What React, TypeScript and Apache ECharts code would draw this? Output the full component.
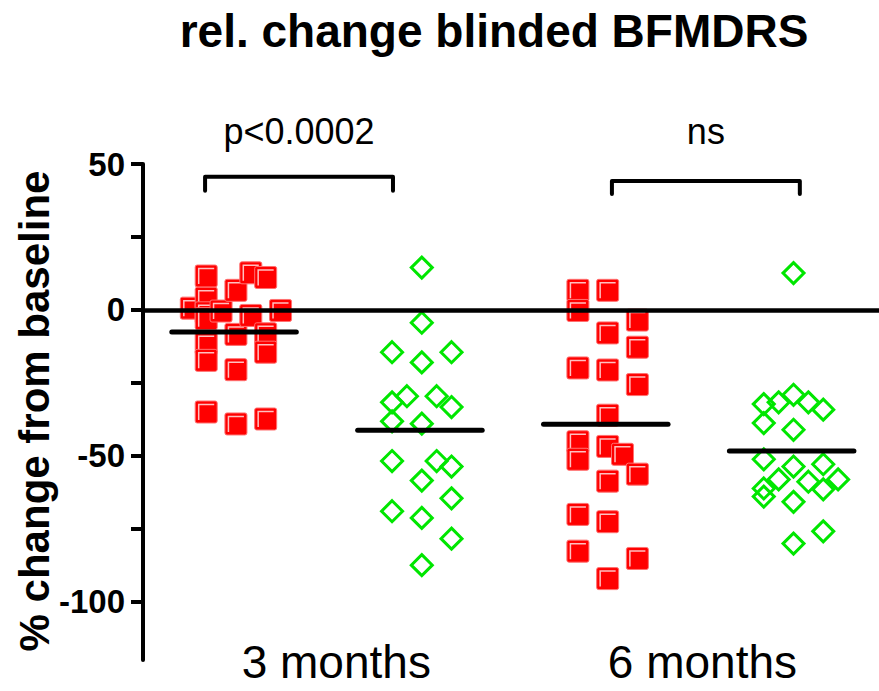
import React, { useEffect, useRef } from 'react';
import * as echarts from 'echarts';

// ---- data ----
const groupCenters = [1, 2, 3, 4];
const groupNames = ['3 months (red)', '3 months (green)', '6 months (red)', '6 months (green)'];
const slotStep = 0.08; // horizontal jitter step, in x-axis units

const red3mValues = [0.6, 11.6, 4, -1, -3, -11.6, -17.3, -35, -0.4, 6.7, -8.4, -20.5, -39.1, 12.7, -1.9, 11.1, -8.2, -14.5, -37.4, -0.2];
const red3mSlots = [-3, -2, -2, -2, -2, -2, -2, -2, -1, 0, 0, 0, 0, 1, 1, 2, 2, 2, 2, 3];

const green3mValues = [14.5, -4.4, -18, -39, -58.5, -71.3, -87.5, -14.5, -31.7, -38.2, -51.8, -69, -14.5, -33.3, -53.7, -64.6, -78.4, -29.6, -29.6, -51.8];
const green3mSlots = [0, 0, 0, 0, 0, 0, 0, -2, -2, -2, -2, -2, 2, 2, 2, 2, 2, -1, 1, 1];

const red6mValues = [6.7, -0.2, -19.9, -45.2, -51.2, -70.1, -82.7, 6.7, -7.9, -20.6, -36.1, -46.8, -58.7, -72.6, -92.1, -49.5, -3.5, -12.8, -25.6, -56.3, -85.2];
const red6mSlots = [-2, -2, -2, -2, -2, -2, -2, 0, 0, 0, 0, 0, 0, 0, 0, 1, 2, 2, 2, 2, 2];

const green6mValues = [-32.3, -38.8, -51.2, -61.2, -64, -31.7, -58.1, 12.6, -29.1, -41.1, -53.7, -65.8, -80.1, -31.7, -58.9, -34.2, -52.9, -61.5, -75.9, -58.1];
const green6mSlots = [-2, -2, -2, -2, -2, -1, -1, 0, 0, 0, 0, 0, 0, 1, 1, 2, 2, 2, 2, 3];

const yTickValues = [50, 25, 0, -25, -50, -75, -100];
const yLabelValues = [50, 0, -50, -100];
const xLabelPositions = [1.54, 3.51];
const xLabels = ['3 months', '6 months'];

const bracketX1 = [0.834, 3.023];
const bracketX2 = [1.845, 4.034];
const bracketTopY = [45.6, 44.2];
const bracketLegY = [40.8, 39.7];
const bracketTextY = [61, 61];
const bracketLabels = ['p<0.0002', 'ns'];

const FONT = "'Liberation Sans', Arial, Helvetica, sans-serif";
const RED = '#ff0000';
const GREEN = '#00e600';

const mean = (a: number[]) => a.reduce((s, v) => s + v, 0) / a.length;
const toPoints = (center: number, vals: number[], slots: number[]) =>
  vals.map((v, i) => [center + slots[i] * slotStep, v]);

const squareRender = (params: any, api: any) => {
  const p = api.coord([api.value(0), api.value(1)]);
  const s = 22;
  return {
    type: 'group',
    children: [
      {
        type: 'rect',
        shape: { x: p[0] - s / 2, y: p[1] - s / 2, width: s, height: s, r: 2 },
        style: { fill: RED, stroke: '#ff7070', lineWidth: 1 },
      },
      {
        type: 'polyline',
        shape: { points: [[p[0] - 7.5, p[1] + 8], [p[0] - 7.5, p[1] - 7.5], [p[0] + 8, p[1] - 7.5]] },
        style: { stroke: '#ffc0c0', lineWidth: 1.5, fill: null },
      },
    ],
  };
};

const bracketRender = (params: any, api: any) => {
  const x1 = api.value(0), x2 = api.value(1), yt = api.value(2), yl = api.value(3), ytx = api.value(4);
  const a = api.coord([x1, yt]);
  const b = api.coord([x2, yt]);
  const al = api.coord([x1, yl]);
  const bl = api.coord([x2, yl]);
  const t = api.coord([(x1 + x2) / 2, ytx]);
  return {
    type: 'group',
    children: [
      {
        type: 'polyline',
        shape: { points: [al, a, b, bl] },
        style: { stroke: '#000', lineWidth: 4, fill: null, lineJoin: 'round', lineCap: 'round' },
      },
      {
        type: 'text',
        x: t[0],
        y: t[1],
        style: {
          text: bracketLabels[params.dataIndex],
          font: `36px ${FONT}`,
          fill: '#000',
          align: 'center',
          verticalAlign: 'middle',
          textAlign: 'center',
          textVerticalAlign: 'middle',
        },
      },
    ],
  };
};

const meanLineSeries = (center: number, vals: number[]) => ({
  type: 'line',
  data: [[center - 0.345, mean(vals)], [center + 0.325, mean(vals)]],
  symbol: 'none',
  lineStyle: { color: '#000', width: 5, cap: 'round' },
  z: 6,
  silent: true,
  animation: false,
});

export default function App() {
  const ref = useRef<HTMLDivElement>(null);
  useEffect(() => {
    if (!ref.current) return;
    const chart = echarts.init(ref.current, null, { renderer: 'svg' });
    const option: any = {
      animation: false,
      backgroundColor: '#fff',
      grid: { left: 143, right: 0, top: 164, bottom: 31 },
      xAxis: {
        type: 'value',
        min: 0.5,
        max: 4.46,
        axisLine: { show: false },
        axisTick: { show: false },
        splitLine: { show: false },
        axisLabel: {
          customValues: xLabelPositions,
          formatter: (v: number) => (v < 2.5 ? xLabels[0] : xLabels[1]),
          fontSize: 46,
          fontFamily: FONT,
          color: '#000',
          margin: -21,
        },
      },
      yAxis: {
        type: 'value',
        min: -120,
        max: 50,
        axisLine: { show: true, lineStyle: { color: '#000', width: 4 } },
        axisTick: { show: true, customValues: yTickValues, length: 12, lineStyle: { color: '#000', width: 4 } },
        axisLabel: {
          customValues: yLabelValues,
          fontSize: 33,
          fontWeight: 'bold',
          fontFamily: FONT,
          color: '#000',
          margin: 18,
        },
        splitLine: { show: false },
      },
      graphic: [
        {
          type: 'text',
          x: 494,
          y: 31,
          style: {
            text: 'rel. change blinded BFMDRS',
            font: `bold 46px ${FONT}`,
            fill: '#000',
            textAlign: 'center',
            textVerticalAlign: 'middle',
          },
        },
        {
          type: 'text',
          x: 34,
          y: 411,
          rotation: Math.PI / 2,
          style: {
            text: '% change from baseline',
            font: `bold 42px ${FONT}`,
            fill: '#000',
            textAlign: 'center',
            textVerticalAlign: 'middle',
          },
        },
      ],
      series: [
        {
          type: 'custom',
          name: groupNames[0],
          data: toPoints(groupCenters[0], red3mValues, red3mSlots),
          renderItem: squareRender,
          z: 2,
        },
        {
          type: 'scatter',
          name: groupNames[1],
          data: toPoints(groupCenters[1], green3mValues, green3mSlots),
          symbol: 'diamond',
          symbolSize: 21,
          itemStyle: { color: 'rgba(0,0,0,0)', borderColor: GREEN, borderWidth: 3, opacity: 1 },
          z: 2,
        },
        {
          type: 'custom',
          name: groupNames[2],
          data: toPoints(groupCenters[2], red6mValues, red6mSlots),
          renderItem: squareRender,
          z: 2,
        },
        {
          type: 'scatter',
          name: groupNames[3],
          data: toPoints(groupCenters[3], green6mValues, green6mSlots),
          symbol: 'diamond',
          symbolSize: 21,
          itemStyle: { color: 'rgba(0,0,0,0)', borderColor: GREEN, borderWidth: 3, opacity: 1 },
          z: 2,
        },
        meanLineSeries(groupCenters[0], red3mValues),
        meanLineSeries(groupCenters[1], green3mValues),
        meanLineSeries(groupCenters[2], red6mValues),
        meanLineSeries(groupCenters[3], green6mValues),
        {
          type: 'line',
          data: [],
          z: 7,
          markLine: {
            silent: true,
            symbol: ['none', 'none'],
            label: { show: false },
            lineStyle: { color: '#000', width: 4.5, type: 'solid' },
            data: [{ yAxis: 0 }],
          },
        },
        {
          type: 'custom',
          data: bracketX1.map((x, i) => [x, bracketX2[i], bracketTopY[i], bracketLegY[i], bracketTextY[i]]),
          renderItem: bracketRender,
          clip: false,
          z: 8,
        },
      ],
    };
    chart.setOption(option);
    return () => chart.dispose();
  }, []);
  return (
    <div
      ref={ref}
      style={{ position: 'fixed', left: 0, top: 0, width: 879, height: 691, background: '#fff' }}
    />
  );
}
